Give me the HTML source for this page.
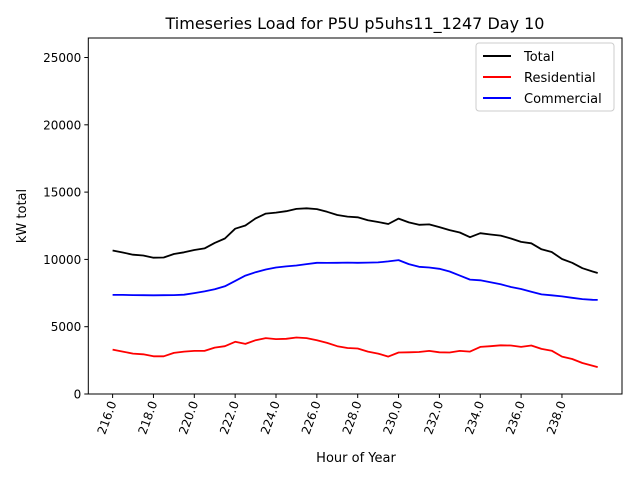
<!DOCTYPE html>
<html><head><meta charset="utf-8"><style>
body{margin:0;background:#fff}
svg{font-family:"DejaVu Sans","Liberation Sans",sans-serif}
</style></head><body>
<svg id="chart" width="640" height="480" viewBox="0 0 640 480">
<rect width="640" height="480" fill="#fff"/>
<text x="355" y="29" font-size="16" text-anchor="middle">Timeseries Load for P5U p5uhs11_1247  Day 10</text>
<g id="axes"></g>
<g id="series"></g>
<g>
<rect x="476" y="43" width="138" height="68" fill="#fff" stroke="#ccc" rx="3"/>
<line x1="483" y1="56" x2="511" y2="56" stroke="#000" stroke-width="2"/>
<text x="524" y="61" font-size="13">Total</text>
<line x1="483" y1="77" x2="511" y2="77" stroke="#f00" stroke-width="2"/>
<text x="524" y="82" font-size="13">Residential</text>
<line x1="483" y1="98" x2="511" y2="98" stroke="#00f" stroke-width="2"/>
<text x="524" y="103" font-size="13">Commercial</text>
</g>
<text x="356" y="462" font-size="13" text-anchor="middle">Hour of Year</text>
<text transform="translate(26,216) rotate(-90)" font-size="13" text-anchor="middle">kW total</text>
</svg>
<script>
const hours=[216,216.5,217,217.5,218,218.5,219,219.5,220,220.5,221,221.5,222,222.5,223,223.5,224,224.5,225,225.5,226,226.5,227,227.5,228,228.5,229,229.5,230,230.5,231,231.5,232,232.5,233,233.5,234,234.5,235,235.5,236,236.5,237,237.5,238,238.5,239,239.5,239.75];
const commercial=[7360,7360,7350,7340,7330,7340,7350,7380,7500,7620,7780,8000,8400,8800,9050,9250,9400,9480,9550,9650,9750,9740,9750,9760,9750,9760,9780,9850,9950,9650,9450,9400,9300,9100,8800,8500,8450,8300,8150,7950,7800,7600,7400,7330,7250,7150,7050,7000,6990];
const residential=[3300,3150,3000,2950,2800,2800,3050,3150,3200,3200,3450,3550,3880,3720,4000,4150,4080,4100,4200,4150,3990,3800,3550,3420,3380,3150,3000,2780,3080,3100,3120,3200,3100,3080,3200,3150,3500,3550,3620,3600,3500,3600,3350,3220,2780,2600,2300,2100,2000];
const total=commercial.map((c,i)=>c+residential[i]);
const xTicks=[216,218,220,222,224,226,228,230,232,234,236,238];
const yTicks=[0,5000,10000,15000,20000,25000];
const L=88.3,R=622,T=38,B=394;
const xMin=214.81,xMax=240.94,yMin=0,yMax=26450;
const sx=v=>L+(v-xMin)/(xMax-xMin)*(R-L);
const sy=v=>B-(v-yMin)/(yMax-yMin)*(B-T);
const NS="http://www.w3.org/2000/svg";
function mk(tag,attrs,parent){const e=document.createElementNS(NS,tag);for(const k in attrs)e.setAttribute(k,attrs[k]);parent.appendChild(e);return e;}
const ax=document.getElementById('axes');
const fr=mk('rect',{x:L,y:T,width:R-L,height:B-T,fill:'none',stroke:'#000','stroke-width':1},ax);


xTicks.forEach(t=>{
 const x=sx(t);
 mk('line',{x1:x,y1:B,x2:x,y2:B+4,stroke:'#000'},ax);
 const tx=mk('text',{transform:`translate(${x+4},${B+9}) rotate(-70)`,'font-size':12,'text-anchor':'end'},ax);
 tx.textContent=t.toFixed(1);
 
 
});
yTicks.forEach(t=>{
 const y=sy(t);
 mk('line',{x1:L-4,y1:y,x2:L,y2:y,stroke:'#000'},ax);
 const tx=mk('text',{x:L-7,y:y+4.5,'font-size':12,'text-anchor':'end'},ax);
 tx.textContent=String(t);
 
 
});
const sg=document.getElementById('series');
[[total,'#000','total-line'],[residential,'#f00','residential-line'],[commercial,'#00f','commercial-line']].forEach(([arr,c,n])=>{
 const d=arr.map((v,i)=>(i?'L':'M')+sx(hours[i]).toFixed(1)+','+sy(v).toFixed(1)).join('');
 const p=mk('path',{d:d,fill:'none',stroke:c,'stroke-width':1.8,'stroke-linejoin':'round'},sg);
 
 
});
</script>
</body></html>
